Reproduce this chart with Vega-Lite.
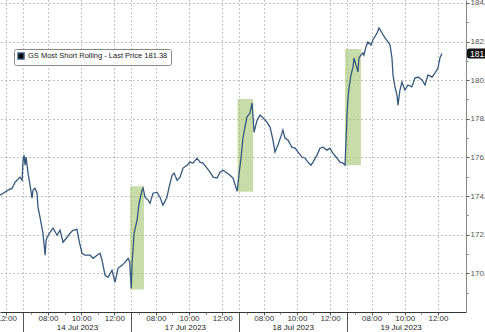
{
  "$schema": "https://vega.github.io/schema/vega-lite/v6.json",
  "width": 466,
  "height": 312,
  "autosize": {"type": "none"},
  "padding": {"left": 0, "top": 0, "right": 19, "bottom": 20},
  "background": "white",
  "config": {
    "view": {"stroke": null},
    "font": "Liberation Sans",
    "axis": {"labelFont": "Liberation Sans", "labelFontSize": 8, "labelColor": "#333", "title": null}
  },
  "datasets": {
    "price": [
      {"t": -1.39, "v": 174.05}, {"t": -1.2, "v": 174.15}, {"t": -0.9, "v": 174.31}, {"t": -0.66, "v": 174.41},
      {"t": -0.48, "v": 174.72}, {"t": -0.3, "v": 174.88}, {"t": -0.18, "v": 174.98}, {"t": -0.06, "v": 174.82},
      {"t": 0.0, "v": 175.86}, {"t": 0.06, "v": 176.12}, {"t": 0.12, "v": 175.6}, {"t": 0.18, "v": 176.02},
      {"t": 0.3, "v": 175.19}, {"t": 0.42, "v": 174.57}, {"t": 0.54, "v": 173.89}, {"t": 0.6, "v": 174.31},
      {"t": 0.72, "v": 174.41}, {"t": 0.84, "v": 174.15}, {"t": 0.9, "v": 173.42}, {"t": 1.02, "v": 172.91},
      {"t": 1.2, "v": 172.08}, {"t": 1.33, "v": 170.94}, {"t": 1.39, "v": 171.71}, {"t": 1.45, "v": 171.87},
      {"t": 1.63, "v": 172.13}, {"t": 1.81, "v": 172.34}, {"t": 2.05, "v": 171.97}, {"t": 2.23, "v": 172.23},
      {"t": 2.41, "v": 171.61}, {"t": 2.65, "v": 171.87}, {"t": 2.83, "v": 172.08}, {"t": 3.01, "v": 172.23},
      {"t": 3.25, "v": 172.28}, {"t": 3.37, "v": 171.71}, {"t": 3.55, "v": 171.04}, {"t": 3.73, "v": 170.94},
      {"t": 4.04, "v": 170.94}, {"t": 4.22, "v": 170.78}, {"t": 4.46, "v": 170.94}, {"t": 4.64, "v": 171.04},
      {"t": 4.76, "v": 170.68}, {"t": 4.94, "v": 169.9}, {"t": 5.12, "v": 169.8}, {"t": 5.36, "v": 170.16},
      {"t": 5.54, "v": 169.54}, {"t": 5.72, "v": 170.26}, {"t": 5.96, "v": 170.42}, {"t": 6.14, "v": 170.57},
      {"t": 6.33, "v": 170.78}, {"t": 6.42, "v": 170.6}, {"t": 6.52, "v": 169.23}, {"t": 6.57, "v": 170.52},
      {"t": 6.69, "v": 172.08}, {"t": 6.87, "v": 172.75}, {"t": 6.99, "v": 173.63}, {"t": 7.17, "v": 174.31},
      {"t": 7.23, "v": 174.41}, {"t": 7.35, "v": 173.94}, {"t": 7.53, "v": 173.79}, {"t": 7.65, "v": 173.63},
      {"t": 7.83, "v": 174.15}, {"t": 8.07, "v": 174.2}, {"t": 8.25, "v": 173.94}, {"t": 8.43, "v": 173.53},
      {"t": 8.67, "v": 173.94}, {"t": 8.8, "v": 174.46}, {"t": 8.98, "v": 175.08}, {"t": 9.1, "v": 175.19},
      {"t": 9.28, "v": 174.82}, {"t": 9.46, "v": 174.98}, {"t": 9.64, "v": 175.45}, {"t": 9.88, "v": 175.6},
      {"t": 10.06, "v": 175.76}, {"t": 10.24, "v": 175.71}, {"t": 10.48, "v": 175.96}, {"t": 10.66, "v": 175.76},
      {"t": 10.84, "v": 175.71}, {"t": 11.08, "v": 175.45}, {"t": 11.27, "v": 175.24}, {"t": 11.45, "v": 174.98},
      {"t": 11.69, "v": 174.93}, {"t": 11.87, "v": 175.24}, {"t": 12.05, "v": 175.34}, {"t": 12.29, "v": 175.19},
      {"t": 12.47, "v": 175.08}, {"t": 12.65, "v": 174.93}, {"t": 12.9, "v": 174.25}, {"t": 13.02, "v": 175.19},
      {"t": 13.14, "v": 176.02}, {"t": 13.25, "v": 177.0}, {"t": 13.37, "v": 177.57}, {"t": 13.49, "v": 178.09},
      {"t": 13.67, "v": 178.3}, {"t": 13.8, "v": 178.82}, {"t": 13.92, "v": 177.31}, {"t": 14.1, "v": 177.93},
      {"t": 14.28, "v": 178.19}, {"t": 14.46, "v": 178.04}, {"t": 14.7, "v": 177.83}, {"t": 14.88, "v": 177.57},
      {"t": 15.06, "v": 176.9}, {"t": 15.18, "v": 176.28}, {"t": 15.36, "v": 176.64}, {"t": 15.6, "v": 177.26},
      {"t": 15.66, "v": 177.42}, {"t": 15.78, "v": 177.0}, {"t": 15.96, "v": 176.9}, {"t": 16.2, "v": 176.53},
      {"t": 16.39, "v": 176.48}, {"t": 16.57, "v": 176.28}, {"t": 16.81, "v": 176.02}, {"t": 16.99, "v": 175.96},
      {"t": 17.17, "v": 175.76}, {"t": 17.35, "v": 175.6}, {"t": 17.47, "v": 175.76}, {"t": 17.71, "v": 176.12},
      {"t": 17.89, "v": 176.48}, {"t": 18.07, "v": 176.53}, {"t": 18.31, "v": 176.38}, {"t": 18.49, "v": 176.48},
      {"t": 18.67, "v": 176.22}, {"t": 18.92, "v": 175.96}, {"t": 19.1, "v": 175.76}, {"t": 19.28, "v": 175.71},
      {"t": 19.4, "v": 175.6}, {"t": 19.52, "v": 178.19}, {"t": 19.58, "v": 179.08}, {"t": 19.64, "v": 179.59},
      {"t": 19.76, "v": 180.27}, {"t": 19.88, "v": 180.68}, {"t": 19.94, "v": 181.15}, {"t": 20.06, "v": 180.79},
      {"t": 20.18, "v": 180.42}, {"t": 20.24, "v": 181.15}, {"t": 20.36, "v": 181.3}, {"t": 20.48, "v": 181.41},
      {"t": 20.54, "v": 181.3}, {"t": 20.66, "v": 181.72}, {"t": 20.78, "v": 181.98}, {"t": 20.96, "v": 181.82},
      {"t": 21.08, "v": 182.08}, {"t": 21.33, "v": 182.44}, {"t": 21.45, "v": 182.7}, {"t": 21.63, "v": 182.44},
      {"t": 21.81, "v": 182.19}, {"t": 21.99, "v": 181.98}, {"t": 22.11, "v": 181.82}, {"t": 22.23, "v": 181.15},
      {"t": 22.29, "v": 180.27}, {"t": 22.41, "v": 179.65}, {"t": 22.53, "v": 179.23}, {"t": 22.59, "v": 178.71},
      {"t": 22.71, "v": 179.49}, {"t": 22.83, "v": 179.9}, {"t": 23.01, "v": 179.49}, {"t": 23.19, "v": 179.75},
      {"t": 23.43, "v": 179.65}, {"t": 23.61, "v": 180.11}, {"t": 23.8, "v": 180.16}, {"t": 24.04, "v": 180.01},
      {"t": 24.22, "v": 179.75}, {"t": 24.4, "v": 180.27}, {"t": 24.64, "v": 180.16}, {"t": 24.82, "v": 180.37},
      {"t": 25.0, "v": 180.63}, {"t": 25.12, "v": 181.15}, {"t": 25.24, "v": 181.38}
    ],
    "boxes": [
      {"t": 6.45, "t2": 7.29, "lo": 169.17, "hi": 174.51},
      {"t": 12.93, "t2": 13.87, "lo": 174.22, "hi": 179.02},
      {"t": 19.4, "t2": 20.36, "lo": 175.6, "hi": 181.62}
    ],
    "last": [{"t": 26.69, "v": 181.38, "label": "181.38"}]
  },
  "resolve": {"axis": {"x": "independent", "y": "independent"}},
  "layer": [
    {
      "data": {"name": "boxes"},
      "mark": {"type": "rect", "fill": "#a3c571", "opacity": 0.6},
      "encoding": {
        "x": {"field": "t", "type": "quantitative", "scale": {"domain": [-1.39, 26.69], "nice": false, "zero": false},
          "axis": {"orient": "bottom", "values": [0, 6.5, 13, 19.5], "labels": false, "tickSize": 20, "tickColor": "#555", "domain": false, "grid": true, "gridDash": [1, 3], "gridColor": "#888"}},
        "x2": {"field": "t2"},
        "y": {"field": "lo", "type": "quantitative", "scale": {"domain": [168, 184.15], "nice": false, "zero": false},
          "axis": {"orient": "right", "values": [169, 171, 173, 175, 177, 179, 181, 183], "labels": false, "tickSize": 2, "tickColor": "#777", "domain": false, "grid": false}},
        "y2": {"field": "hi"}
      }
    },
    {
      "data": {"name": "price"},
      "mark": {"type": "line", "strokeWidth": 1.3, "interpolate": "linear"},
      "encoding": {
        "x": {"field": "t", "type": "quantitative",
          "axis": {"orient": "bottom", "values": [-1, 1.5, 3.5, 5.5, 8, 10, 12, 14.5, 16.5, 18.5, 21, 23, 25],
            "labelExpr": "(((((datum.value % 6.5) + 6.5) % 6.5) + 6.5) < 10 ? '0' : '') + (((((datum.value % 6.5) + 6.5) % 6.5) + 6.5)) + ':00'",
            "tickSize": 3, "tickColor": "#555", "labelPadding": -1, "domainColor": "#333", "domainWidth": 1,
            "grid": true, "gridDash": [1, 3], "gridColor": "#888"}},
        "y": {"field": "v", "type": "quantitative",
          "axis": {"orient": "right", "values": [170, 172, 174, 176, 178, 180, 182, 184], "format": ".2f",
            "tickSize": 3, "tickColor": "#555", "labelPadding": 1, "labelColor": "#555", "domainColor": "#888",
            "grid": true, "gridDash": [1, 3], "gridColor": "#888"}},
        "color": {"datum": "GS Most Short Rolling - Last Price 181.38", "type": "nominal",
          "scale": {"range": ["#35597d"]},
          "legend": {"title": null, "orient": "none", "legendX": 14, "legendY": 49, "symbolType": "square", "symbolSize": 36,
            "labelFontSize": 7.5, "labelColor": "#222", "labelLimit": 0, "fillColor": "white", "strokeColor": "#888", "padding": 3, "cornerRadius": 2,
            "labelFont": "Liberation Sans", "labelOffset": 3,
            "encode": {"symbols": {"update": {"fill": {"value": "#000"}, "stroke": {"value": "#000"}, "opacity": {"value": 1}}}}}}
      }
    },
    {
      "data": {"name": "last"},
      "mark": {"type": "rect", "fill": "#111", "width": 26, "height": 10, "xOffset": 14, "cornerRadius": 2},
      "encoding": {
        "x": {"field": "t", "type": "quantitative",
          "axis": {"orient": "bottom", "values": [0.5, 2.5, 4.5, 7, 9, 11, 13.5, 15.5, 17.5, 20, 22, 24], "labels": false, "tickSize": 2, "tickColor": "#777", "domain": false, "grid": false}},
        "y": {"field": "v", "type": "quantitative", "axis": null}
      }
    },
    {
      "data": {"name": "last"},
      "mark": {"type": "text", "color": "white", "align": "left", "dx": 4, "fontSize": 8.5, "baseline": "middle"},
      "encoding": {
        "x": {"field": "t", "type": "quantitative",
          "axis": {"orient": "bottom", "values": [3.25, 9.75, 16.25, 22.75],
            "labelExpr": "datum.value == 3.25 ? '14 Jul 2023' : datum.value == 9.75 ? '17 Jul 2023' : datum.value == 16.25 ? '18 Jul 2023' : '19 Jul 2023'",
            "ticks": false, "tickSize": 0, "domain": false, "grid": false, "labelPadding": 11, "labelColor": "#222"}},
        "y": {"field": "v", "type": "quantitative", "axis": null},
        "text": {"field": "label"}
      }
    }
  ]
}
